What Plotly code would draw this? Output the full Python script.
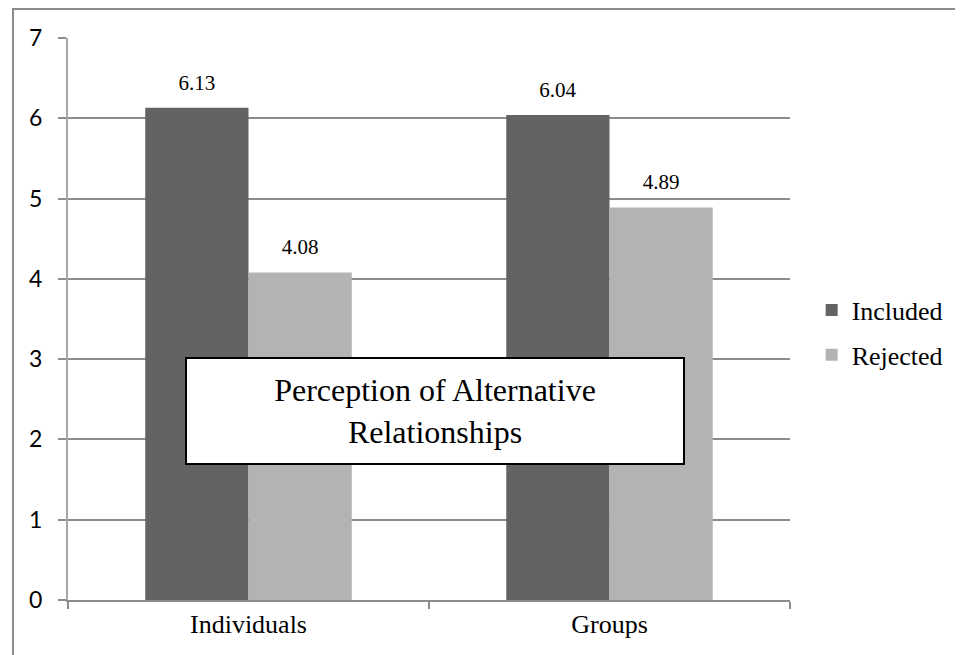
import plotly.graph_objects as go

categories = ["Individuals", "Groups"]
included = [6.13, 6.04]
rejected = [4.08, 4.89]
series_names = ["Included", "Rejected"]
y_ticks = [0, 1, 2, 3, 4, 5, 6, 7]
title_text = "Perception of Alternative<br>Relationships"

serif = "'Liberation Serif', 'Times New Roman', serif"

fig = go.Figure()
for name, vals, col, grp in [(series_names[0], included, "#636363", "a"),
                              (series_names[1], rejected, "#B3B3B3", "b")]:
    fig.add_trace(go.Bar(
        x=categories, y=vals, name=name, marker_color=col, marker_line_width=0,
        text=vals,
        texttemplate="<span style='font-size:21px'>%{y:.2f}</span><br>\u00a0",
        textposition="outside",
        textfont=dict(family=serif, size=10, color="black"),
        cliponaxis=False, legendgroup=grp,
    ))

fig.update_layout(
    width=955, height=647,
    margin=dict(l=60, r=173, t=30, b=55),
    paper_bgcolor="white", plot_bgcolor="white",
    barmode="group", bargap=0.428, bargroupgap=0,
    showlegend=True,
    legend=dict(x=1.03, y=0.476, xanchor="left", yanchor="middle",
                font=dict(family=serif, size=26, color="black"),
                tracegroupgap=8, traceorder="grouped"),
    xaxis=dict(
        type="category", range=[-0.5, 1.5],
        showline=True, linecolor="#8C8C8C", linewidth=2,
        ticks="outside", ticklen=7, tickcolor="#8C8C8C", tickwidth=2,
        tickson="boundaries",
        tickfont=dict(family=serif, size=26, color="black"),
        showgrid=False,
    ),
    yaxis=dict(
        range=[0, 7], tickvals=y_ticks,
        showline=True, linecolor="#A6A6A6", linewidth=2,
        ticks="outside", ticklen=8, tickcolor="#8C8C8C", tickwidth=2,
        ticklabelstandoff=11,
        tickfont=dict(family="Lato, Open Sans, sans-serif", size=23, color="black"),
        showgrid=True, gridcolor="#8C8C8C", gridwidth=1.5,
        zeroline=False,
    ),
    shapes=[dict(type="rect", xref="paper", yref="paper",
                 x0=-0.0762, x1=2, y0=-0.5, y1=1.0516,
                 line=dict(color="#8C8C8C", width=2), fillcolor="rgba(0,0,0,0)", layer="above")],
    annotations=[dict(
        text=title_text, xref="paper", yref="paper", x=0.508, y=0.336,
        xanchor="center", yanchor="middle", showarrow=False,
        font=dict(family=serif, size=32, color="black"),
        bgcolor="white", bordercolor="black", borderwidth=2, borderpad=2,
        width=492, height=100,
    )],
)

fig.write_html("out.html")
